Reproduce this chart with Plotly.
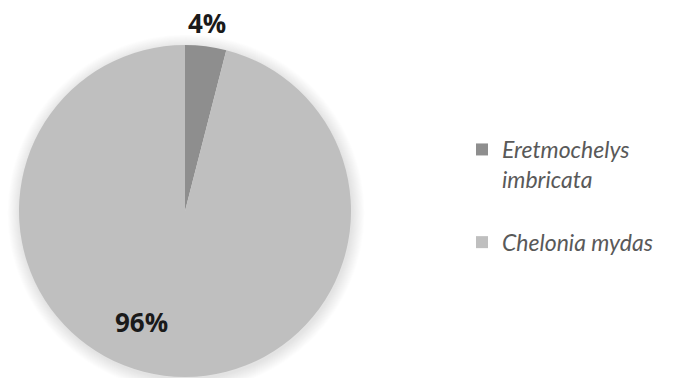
import plotly.graph_objects as go

# Share of sea-turtle records by species
species = ["Eretmochelys<br>imbricata<br> ", "Chelonia mydas"]
shares = [4, 96]
slice_colors = ["#8e8e8e", "#bfbfbf"]
# where each percentage label sits (paper pixels)
label_xy = [(207, 23), (141, 322)]

W, H = 684, 378
cx, cy, r = 185, 211, 166  # pie centre / radius in pixels

fig = go.Figure()

# soft drop shadow under the pie
shapes = []
for i in range(14, 0, -1):
    rr = r + i * 0.9
    shapes.append(dict(
        type="circle", xref="paper", yref="paper", layer="below",
        x0=(cx + 1 - rr) / W, x1=(cx + 1 + rr) / W,
        y0=(H - cy - 2 - rr) / H, y1=(H - cy - 2 + rr) / H,
        fillcolor="rgba(0,0,0,0.009)", line=dict(width=0),
    ))

fig.add_trace(go.Pie(
    labels=species,
    values=shares,
    sort=False,
    direction="clockwise",
    rotation=0,
    marker=dict(colors=slice_colors, line=dict(width=0)),
    textinfo="none",
    domain=dict(x=[(cx - r) / W, (cx + r) / W], y=[(H - cy - r) / H, (H - cy + r) / H]),
    hoverinfo="label+percent",
    showlegend=True,
))

annotations = []
for v, (px, py) in zip(shares, label_xy):
    annotations.append(dict(
        x=px / W, y=1 - py / H, xref="paper", yref="paper",
        text=f"<b>{v}%</b>", showarrow=False,
        xanchor="center", yanchor="middle",
        font=dict(family="Open Sans", size=26, color="#1a1a1a"),
    ))

fig.update_layout(
    width=W, height=H,
    margin=dict(l=0, r=0, t=0, b=0),
    paper_bgcolor="white",
    plot_bgcolor="white",
    shapes=shapes,
    annotations=annotations,
    legend=dict(
        x=462 / W, xanchor="left",
        y=1 - 128 / H, yanchor="top",
        valign="top",
        font=dict(family="Lato", size=23, color="#595959", style="italic"),
        bgcolor="rgba(0,0,0,0)",
    ),
)

fig.write_html("out.html")
